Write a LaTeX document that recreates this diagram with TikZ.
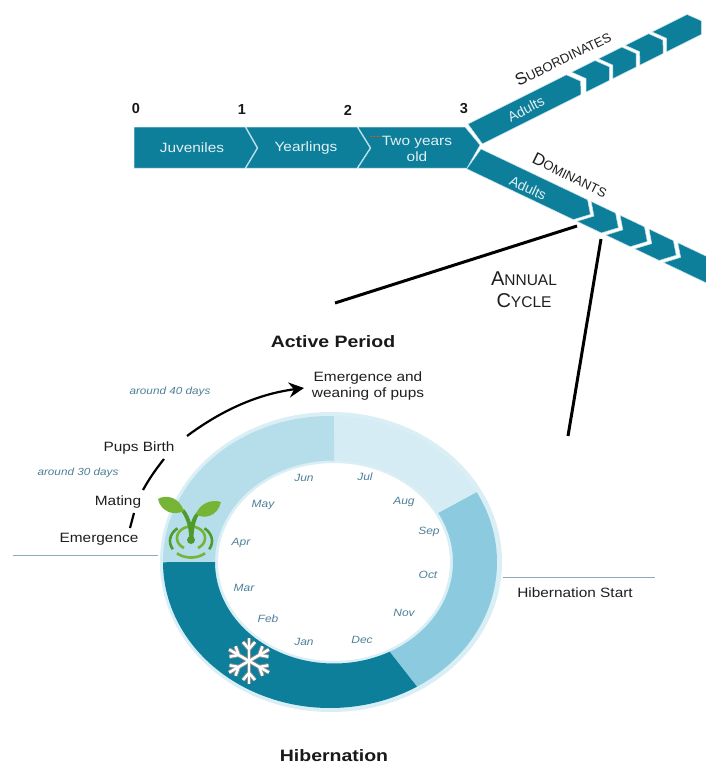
\documentclass[tikz,border=0pt]{standalone}
\usepackage{fontspec}
\setmainfont{Liberation Sans}
\usetikzlibrary{arrows.meta}
\definecolor{teal1}{HTML}{0E7F9B}
\definecolor{edgec}{HTML}{BFE2EC}
\definecolor{ringhalo}{HTML}{D9EEF5}
\definecolor{ringa}{HTML}{B5DDEA}
\definecolor{ringb}{HTML}{D6ECF4}
\definecolor{ringc}{HTML}{8CCBDF}
\definecolor{monthc}{HTML}{4F8097}
\definecolor{leafg}{HTML}{76B436}
\definecolor{leafd}{HTML}{4E9A2B}
\definecolor{ruleg}{HTML}{8FA9B5}
\definecolor{flakeg}{HTML}{8A8F92}
\newcommand{\fsc}[2]{{\fontsize{17}{17}\selectfont #1}{\fontsize{13}{13}\selectfont #2}}
\newcommand{\fscb}[2]{{\fontsize{20}{20}\selectfont #1}{\fontsize{15.5}{15.5}\selectfont #2}}
\newcommand{\ringseg}[5]{\fill[#1]
  plot[domain=0:1,samples=70] ({330+167*cos(#2+(#3-#2)*\x)},{562+146*sin(#2+(#3-#2)*\x)}) --
  plot[domain=0:1,samples=70] ({334+119*cos(#4+(#5-#4)*\x)},{562+101.5*sin(#4+(#5-#4)*\x)}) -- cycle;}
\newcommand{\chev}[3]{\path[band] (#1,0) -- ++(#2,0) -- ++(#3,12.25) -- ++(-#3,12.25) -- (#1,24.5) -- ++(#3,-12.25) -- cycle;}
\tikzset{
  band/.style={fill=teal1,draw=edgec,line width=0.5pt,line join=round},
  bandtext/.style={text=white!88!teal1,font=\fontsize{13.5}{15}\selectfont,align=center,transform shape,xscale=1.14},
  blacktext/.style={text=black!88,font=\fontsize{13.5}{16}\selectfont,align=center,transform shape,xscale=1.14},
  boldtext/.style={text=black!90,font=\bfseries\fontsize{16.5}{17}\selectfont,inner sep=0pt,transform shape,xscale=1.18},
  numtext/.style={text=black!90,font=\bfseries\fontsize{14.5}{15}\selectfont},
  monthtext/.style={text=monthc,font=\itshape\fontsize{10.5}{12}\selectfont,transform shape,xscale=1.14},
  daystext/.style={text=monthc,font=\itshape\fontsize{10.3}{12}\selectfont,transform shape,xscale=1.14},
  callout/.style={draw=black,line width=3pt},
  timeline/.style={draw=black,line width=2.2pt},
  rule/.style={draw=ruleg,line width=1pt},
}
\begin{document}
\begin{tikzpicture}[x=1pt,y=-1pt]
\useasboundingbox (0,0) rectangle (706,764);
\fill[white] (0,0) rectangle (706,764);
\begin{scope}
\clip (0,0) rectangle (706,764);
% main timeline
\path[band] (134,127) -- (245,127) -- (257,148) -- (245,168) -- (134,168) -- cycle;
\path[band] (246,127) -- (357,127) -- (370,148) -- (357,168) -- (246,168) -- (258,148) -- cycle;
\path[band] (358,127) -- (465,127) -- (480,145) -- (467,168) -- (358,168) -- (371,148) -- cycle;
\draw[red!40!brown!70!teal1,line width=0.3pt] (370,136) -- (381,136);
% upper branch
\begin{scope}[shift={(468,124)},x={(0.894pt,0.447pt)},y={(0.59pt,-0.81pt)}]
\path[band] (0,0) -- (110,0) -- (118,12.25) -- (110,24.5) -- (0,24.5) -- cycle;
\chev{116}{26}{8}
\chev{146}{26}{8}
\chev{176}{26}{8}
\chev{206}{39}{8}
\end{scope}
% lower branch
\begin{scope}[shift={(481,149)},x={(0.903pt,-0.43pt)},y={(-0.58pt,-0.81pt)}]
\path[band] (0,0) -- (118,0) -- (129,12.25) -- (118,24.5) -- (0,24.5) -- cycle;
\chev{122}{27}{11}
\chev{154}{27}{11}
\chev{186}{27}{11}
\chev{218}{60}{11}
\end{scope}
\end{scope}
% timeline labels
\node[numtext] (n0) at (136,109) {0};
\node[numtext] (n1) at (242,110) {1};
\node[numtext] (n2) at (348,110) {2};
\node[numtext] (n3) at (464,109) {3};
\node[bandtext] (juv) at (192,148) {Juveniles};
\node[bandtext] (yea) at (306,148) {Yearlings};
\node[bandtext,font=\fontsize{13.5}{16}\selectfont] (two) at (417,149) {Two years\\old};
\node[text=white!88!teal1,font=\fontsize{14}{15}\selectfont,rotate=27] (adu) at (526,109) {Adults};
\node[text=white!88!teal1,font=\fontsize{14}{15}\selectfont,rotate=-25] (adl) at (528,188) {Adults};
\node[text=black!88,rotate=26] (sub) at (563,58) {\fsc{S}{UBORDINATES}};
\node[text=black!88,rotate=-26] (dom) at (570,175) {\fsc{D}{OMINANTS}};
\node[text=black!88,align=center,font=\fontsize{15}{22}\selectfont] (ann) at (524,290) {\fscb{A}{NNUAL}\\\fscb{C}{YCLE}};
% callout lines
\coordinate (c1a) at (577,226);
\coordinate (c1b) at (335,303);
\coordinate (c2a) at (601,239);
\coordinate (c2b) at (568,436);
\draw[callout] (c1a) -- (c1b);
\draw[callout] (c2a) -- (c2b);
\node[boldtext] (act) at (333,342) {Active Period};
\node[boldtext] (hib) at (334,756) {Hibernation};
% ring
\fill[ringhalo,even odd rule] (331,562) ellipse [x radius=171,y radius=150] (334,562) ellipse [x radius=116,y radius=99];
\ringseg{ringc}{-28.6}{58.6}{62}{-29}
\ringseg{ringb}{-88.5}{-28.6}{-29}{-90}
\ringseg{ringa}{180}{271.5}{270}{180}
\ringseg{teal1}{58.6}{180}{180}{62}
% rules
\coordinate (r1a) at (13,555);
\coordinate (r1b) at (158,555);
\coordinate (r2a) at (503,577);
\coordinate (r2b) at (655,577);
\draw[rule] (r1a) -- (r1b);
\draw[rule] (r2a) -- (r2b);
% months
\node[monthtext] (jun) at (304,478) {Jun};
\node[monthtext] (jul) at (365,477) {Jul};
\node[monthtext] (aug) at (404,502) {Aug};
\node[monthtext] (sep) at (429,532) {Sep};
\node[monthtext] (oct) at (428,575) {Oct};
\node[monthtext] (nov) at (404,613) {Nov};
\node[monthtext] (dec) at (362,640) {Dec};
\node[monthtext] (jan) at (304,642) {Jan};
\node[monthtext] (feb) at (268,619) {Feb};
\node[monthtext] (mar) at (244,588) {Mar};
\node[monthtext] (apr) at (241,543) {Apr};
\node[monthtext] (may) at (263,505) {May};
% events
\node[daystext] (d40) at (170,392) {around 40 days};
\node[daystext] (d30) at (78,473) {around 30 days};
\node[blacktext] (pup) at (139,448) {Pups Birth};
\node[blacktext] (mat) at (118,502) {Mating};
\node[blacktext] (eme) at (99,539) {Emergence};
\node[blacktext] (wea) at (368,386) {Emergence and\\weaning of pups};
\node[blacktext] (hst) at (575,593) {Hibernation Start};
\coordinate (a1) at (187,436);
\coordinate (a2) at (304,388);
\coordinate (b1) at (164,459);
\coordinate (b2) at (143,490);
\coordinate (e1) at (134,513);
\coordinate (e2) at (130,528);
\draw[timeline,-{Stealth[length=15pt,width=15pt]}] (a1) .. controls (222,410) and (258,394) .. (a2);
\draw[timeline] (b1) .. controls (156,469) and (149,479) .. (b2);
\draw[timeline] (e1) -- (e2);
% sprout
\draw[leafg,line width=2.6pt] plot[domain=120:420,samples=40] ({191+14*cos(\x)},{538+11.5*sin(\x)});
\draw[leafd,line width=2.6pt] plot[domain=-50:30,samples=14] ({191+21*cos(\x)},{541+16.5*sin(\x)});
\draw[leafd,line width=2.6pt] plot[domain=150:230,samples=14] ({191+21*cos(\x)},{541+16.5*sin(\x)});
\draw[leafg,line width=2.6pt] plot[domain=48:132,samples=14] ({191+21*cos(\x)},{541+16.5*sin(\x)});
\fill[leafd] (191,540) circle (4);
\fill[leafd] (189,540) .. controls (189.5,530) and (187,519) .. (181,511) -- (184,509) .. controls (188,514) and (190,519) .. (191,523) .. controls (192,519) and (194,515) .. (197,512) -- (199.5,514) .. controls (195,520) and (193.5,530) .. (193.5,540) -- cycle;
\fill[leafg] (158,499) .. controls (166,494) and (179,497) .. (184,511) .. controls (174,516) and (161,512) .. (158,499) -- cycle;
\fill[leafg] (221,502) .. controls (212,499) and (200,503) .. (196,514) .. controls (204,520) and (218,516) .. (221,502) -- cycle;
% snowflake
\foreach \wid/\col in {4.4/flakeg,2.5/white}{
  \foreach \ang in {30,90,150,210,270,330}{
    \begin{scope}[shift={(249,661)},rotate=\ang]
      \draw[\col,line width=\wid pt] (0,0) -- (23,0);
      \draw[\col,line width=\wid pt] (12,0) -- (19,6);
      \draw[\col,line width=\wid pt] (12,0) -- (19,-6);
    \end{scope}
  }
}
\end{tikzpicture}
\end{document}
